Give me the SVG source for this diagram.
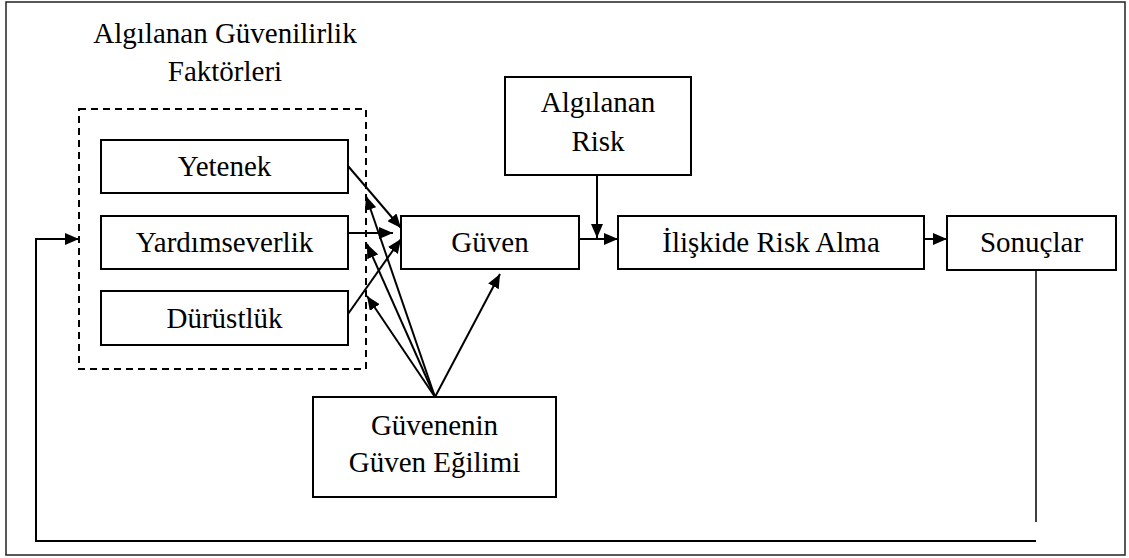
<svg xmlns="http://www.w3.org/2000/svg" width="1129" height="558" viewBox="0 0 1129 558">
  <style>
    .box { fill: #ffffff; stroke: #000000; stroke-width: 2; }
    .group { fill: none; stroke: #000000; stroke-width: 2; stroke-dasharray: 7 5; }
    .frame { fill: #ffffff; stroke: #222222; stroke-width: 1.5; }
    text { font-family: 'Liberation Serif', 'Times New Roman', serif; font-size: 29px; fill: #000000; text-anchor: middle; }
    .link { fill: none; stroke: #000000; stroke-width: 2; }
    .arrow { marker-end: url(#head); }
  </style>
  <defs>
    <marker id="head" viewBox="0 0 14 12" refX="14" refY="6" markerWidth="14" markerHeight="12" markerUnits="userSpaceOnUse" orient="auto">
      <path d="M0,0 L14,6 L0,12 Z" fill="#000000"/>
    </marker>
  </defs>

  <!-- outer frame -->
  <rect class="frame" x="6" y="2" width="1119" height="553"/>

  <!-- group title and dashed grouping -->
  <g id="factors-group">
    <text x="225" y="43">Algılanan Güvenilirlik</text>
    <text x="225" y="81">Faktörleri</text>
    <rect class="group" x="79" y="109" width="287" height="260"/>
  </g>

  <g id="node-yetenek">
    <rect class="box" x="101" y="140" width="247" height="53"/>
    <text x="224.5" y="176">Yetenek</text>
  </g>
  <g id="node-yardimseverlik">
    <rect class="box" x="101" y="216" width="247" height="53"/>
    <text x="224.5" y="252">Yardımseverlik</text>
  </g>
  <g id="node-durustluk">
    <rect class="box" x="101" y="291" width="247" height="54"/>
    <text x="224.5" y="328">Dürüstlük</text>
  </g>

  <g id="node-guven">
    <rect class="box" x="401" y="216" width="178" height="53"/>
    <text x="490" y="252">Güven</text>
  </g>

  <g id="node-algilanan-risk">
    <rect class="box" x="505" y="77" width="186" height="98"/>
    <text x="598" y="112">Algılanan</text>
    <text x="598" y="151">Risk</text>
  </g>

  <g id="node-risk-alma">
    <rect class="box" x="618" y="216" width="306" height="53"/>
    <text x="771" y="252">İlişkide Risk Alma</text>
  </g>

  <g id="node-sonuclar">
    <rect class="box" x="947" y="216" width="169" height="54"/>
    <text x="1031.5" y="252">Sonuçlar</text>
  </g>

  <g id="node-guven-egilimi">
    <rect class="box" x="313" y="397" width="243" height="100"/>
    <text x="434.5" y="435">Güvenenin</text>
    <text x="434.5" y="472">Güven Eğilimi</text>
  </g>

  <!-- connectors -->
  <g id="connectors">
    <line class="link arrow" x1="348" y1="166" x2="401" y2="228"/>
    <line class="link arrow" x1="348" y1="233" x2="393" y2="233"/>
    <line class="link arrow" x1="348" y1="314" x2="401" y2="239"/>

    <line class="link arrow" x1="435" y1="397" x2="366" y2="196"/>
    <line class="link arrow" x1="435" y1="397" x2="367" y2="244"/>
    <line class="link arrow" x1="435" y1="397" x2="367" y2="296"/>
    <line class="link arrow" x1="435" y1="397" x2="500" y2="274"/>

    <line class="link arrow" x1="579" y1="239" x2="618" y2="239"/>
    <line class="link arrow" x1="597" y1="175" x2="597" y2="238"/>
    <line class="link arrow" x1="924" y1="239" x2="947" y2="239"/>

    <!-- feedback loop -->
    <line class="link" x1="1036" y1="270" x2="1036" y2="522" style="stroke-width:1.5"/>
    <polyline class="link arrow" points="1036,541 36,541 36,239 79,239"/>
  </g>
</svg>
